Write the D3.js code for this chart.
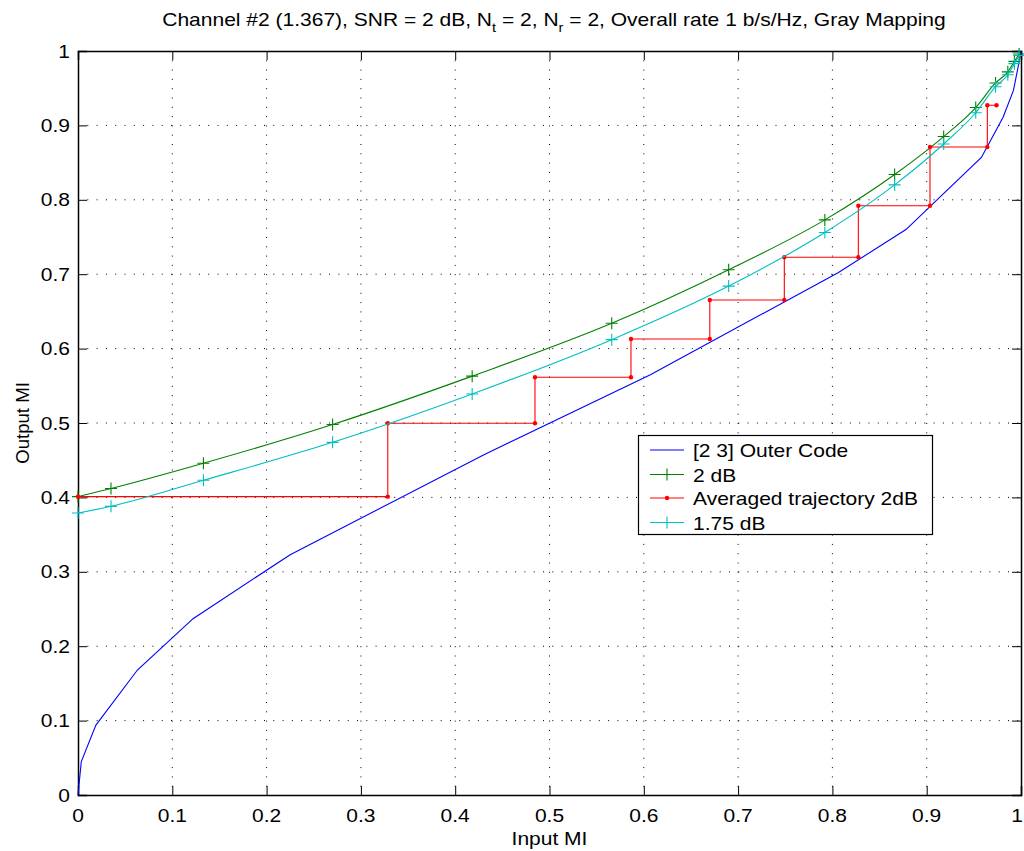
<!DOCTYPE html>
<html><head><meta charset="utf-8">
<script src="https://cdn.jsdelivr.net/npm/d3@7"></script>
<style>
html,body{margin:0;padding:0;background:#fff;}
svg text{font-family:"Liberation Sans",Arial,Helvetica,sans-serif;fill:#000;}
</style></head>
<body>
<svg id="chart" width="1024" height="851"></svg>
<script>
// ---- data ----
const ticks = [0,0.1,0.2,0.3,0.4,0.5,0.6,0.7,0.8,0.9,1];
const tickLabels = ["0","0.1","0.2","0.3","0.4","0.5","0.6","0.7","0.8","0.9","1"];

const outerX = [0,0.0035,0.019,0.063,0.122,0.225,0.43,0.607,0.806,0.878,0.958,0.981,0.992,0.997,1];
const outerY = [0,0.045,0.094,0.168,0.237,0.323,0.457,0.565,0.702,0.760,0.857,0.911,0.947,0.979,1];

const innerX   = [0,0.035,0.133,0.270,0.418,0.566,0.690,0.792,0.866,0.918,0.952,0.973,0.986,0.993,0.998];
const snr2Y    = [0.401,0.412,0.446,0.498,0.563,0.634,0.706,0.773,0.834,0.885,0.924,0.957,0.972,0.986,0.996];
const snr175Y  = [0.379,0.388,0.423,0.474,0.539,0.612,0.684,0.756,0.820,0.875,0.917,0.952,0.968,0.983,0.994];

const trajX = [0,0.3285,0.3285,0.4846,0.4846,0.5864,0.5864,0.670,0.670,0.749,0.749,0.8275,0.8275,0.9035,0.9035,0.9643,0.9643,0.974];
const trajY = [0.401,0.401,0.4996,0.4996,0.5614,0.5614,0.6129,0.6129,0.6653,0.6653,0.7227,0.7227,0.792,0.792,0.871,0.871,0.927,0.927];

const legendLabels = ["[2 3] Outer Code","2 dB","Averaged trajectory 2dB","1.75 dB"];
const colors = {blue:"#0000ff", green:"#008000", red:"#ff0000", cyan:"#00bfbf"};

// ---- layout ----
const L=78, R=1021, T=51, B=795;
const FS=18.6, SX=1.13;
const svg = d3.select("#chart");
const x = d3.scaleLinear().domain([0,1]).range([L,R]);
const y = d3.scaleLinear().domain([0,1]).range([B,T]);

function htext(g, tx, ty, str, anchor, size){
  return g.append("text").attr("transform",`translate(${tx},${ty}) scale(${SX},1)`)
    .attr("text-anchor",anchor).style("font-size",(size||FS)+"px").text(str);
}

// grid
const grid = svg.append("g");
ticks.slice(1,-1).forEach(t=>{
  grid.append("line").attr("x1",x(t)).attr("x2",x(t)).attr("y1",T).attr("y2",B)
    .attr("stroke","#000").attr("stroke-width",1).attr("stroke-dasharray","1,8.3");
  grid.append("line").attr("y1",y(t)).attr("y2",y(t)).attr("x1",L).attr("x2",R)
    .attr("stroke","#000").attr("stroke-width",1).attr("stroke-dasharray","1,8.3");
});

// axes (ticks inside, all four sides)
const axB = d3.axisBottom(x).tickValues(ticks).tickSize(-9).tickFormat("");
const axT = d3.axisTop(x).tickValues(ticks).tickSize(-9).tickFormat("");
const axLft = d3.axisLeft(y).tickValues(ticks).tickSize(-9).tickFormat("");
const axRt = d3.axisRight(y).tickValues(ticks).tickSize(-9).tickFormat("");
[[axB,`translate(0,${B})`],[axT,`translate(0,${T})`],[axLft,`translate(${L},0)`],[axRt,`translate(${R},0)`]].forEach(([a,tr])=>{
  const g = svg.append("g").attr("transform",tr).call(a);
  g.select(".domain").attr("stroke","#000").attr("stroke-width",1.5);
  g.selectAll(".tick line").attr("stroke","#000").attr("stroke-width",1);
});

// tick labels
const lab = svg.append("g");
ticks.forEach((t,i)=>{
  htext(lab, Math.min(x(t), 1017), 822, tickLabels[i], "middle");
  htext(lab, 70, y(t)+6.6, tickLabels[i], "end");
});

// curves
const line = d3.line().x(d=>x(d[0])).y(d=>y(d[1]));
const smooth = d3.line().x(d=>x(d[0])).y(d=>y(d[1])).curve(d3.curveMonotoneX);
const plot = svg.append("g");
const outer = outerX.map((v,i)=>[v,outerY[i]]);
const s2 = innerX.map((v,i)=>[v,snr2Y[i]]);
const s175 = innerX.map((v,i)=>[v,snr175Y[i]]);
const traj = trajX.map((v,i)=>[v,trajY[i]]);

plot.append("path").datum(outer).attr("d",line).attr("fill","none").attr("stroke",colors.blue).attr("stroke-width",1.1);
plot.append("path").datum(s2).attr("d",smooth).attr("fill","none").attr("stroke",colors.green).attr("stroke-width",1.1);

function plus(g, pts, col){
  g.selectAll(null).data(pts).enter().append("path")
    .attr("d",d=>`M${x(d[0])-6},${y(d[1])}H${x(d[0])+6}M${x(d[0])},${y(d[1])-6}V${y(d[1])+6}`)
    .attr("stroke",col).attr("stroke-width",1.1).attr("fill","none");
}
plus(plot, s2, colors.green);

plot.append("path").datum(traj).attr("d",line).attr("fill","none").attr("stroke",colors.red).attr("stroke-width",1.1);
plot.selectAll(null).data(traj).enter().append("circle")
  .attr("cx",d=>x(d[0])).attr("cy",d=>y(d[1])).attr("r",2.2).attr("fill",colors.red);

plot.append("path").datum(s175).attr("d",smooth).attr("fill","none").attr("stroke",colors.cyan).attr("stroke-width",1.1);
plus(plot, s175, colors.cyan);

// legend
const lg = svg.append("g");
lg.append("rect").attr("x",638.5).attr("y",435.5).attr("width",294).attr("height",99)
  .attr("fill","#fff").attr("stroke","#000").attr("stroke-width",1.2);
const legCols = [colors.blue,colors.green,colors.red,colors.cyan];
const legY = [450,474.5,498,522.5];
legendLabels.forEach((s,i)=>{
  lg.append("line").attr("x1",650).attr("x2",684).attr("y1",legY[i]).attr("y2",legY[i])
    .attr("stroke",legCols[i]).attr("stroke-width",1.1);
  if(i===1||i===3){
    lg.append("path").attr("d",`M661,${legY[i]}H673M667,${legY[i]-6}V${legY[i]+6}`)
      .attr("stroke",legCols[i]).attr("stroke-width",1.1);
  }
  if(i===2){
    lg.append("circle").attr("cx",667).attr("cy",legY[i]).attr("r",2.2).attr("fill",legCols[i]);
  }
  htext(lg, 693, legY[i]+7, s, "start");
});

// title
const title = svg.append("text").attr("transform",`translate(554,26) scale(${SX},1)`)
  .attr("text-anchor","middle").style("font-size",FS+"px");
title.append("tspan").text("Channel #2 (1.367), SNR = 2 dB, N");
title.append("tspan").attr("dy",6).style("font-size","13px").text("t");
title.append("tspan").attr("dy",-6).text(" = 2, N");
title.append("tspan").attr("dy",6).style("font-size","13px").text("r");
title.append("tspan").attr("dy",-6).text(" = 2, Overall rate 1 b/s/Hz, Gray Mapping");

// axis labels
htext(svg, (L+R)/2, 845, "Input MI", "middle");
svg.append("text").attr("transform",`translate(29,${(T+B)/2}) rotate(-90)`)
  .attr("text-anchor","middle").style("font-size",FS+"px").text("Output MI");
</script>
</body></html>
